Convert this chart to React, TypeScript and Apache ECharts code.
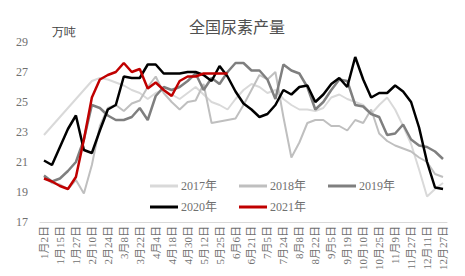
import React, { useEffect, useRef } from "react";
import * as echarts from "echarts";

const categories = [
  "1月2日", "1月8日", "1月15日", "1月21日", "1月27日", "2月3日", "2月10日", "2月17日", "2月24日", "3月2日",
  "3月8日", "3月15日", "3月22日", "3月28日", "4月4日", "4月11日", "4月18日", "4月24日", "4月30日", "5月6日",
  "5月12日", "5月19日", "5月25日", "5月31日", "6月6日", "6月13日", "6月21日", "6月28日", "7月5日", "7月12日",
  "7月24日", "7月31日", "8月8日", "8月15日", "8月22日", "8月29日", "9月5日", "9月12日", "9月19日", "9月26日",
  "10月10日", "10月17日", "10月25日", "11月1日", "11月9日", "11月18日", "11月27日", "12月4日", "12月11日", "12月18日",
  "12月27日",
];

const s2017 = [
  22.8, 23.4, 24.0, 24.6, 25.2, 25.8, 26.4, 26.6, 26.5, 26.3,
  26.1, 25.8, 25.6, 25.2, 25.6, 25.8, 25.5, 25.2, 25.6, 26.0,
  25.5, 25.0, 24.8, 24.5, 25.2, 25.8, 26.2, 26.0, 25.6, 25.8,
  25.2, 24.8, 24.5, 24.5, 24.4, 24.6, 25.3, 25.5, 25.2, 25.0,
  24.8, 24.2, 24.8, 25.3, 24.5, 23.4, 22.2, 20.5, 18.7, 19.2,
  19.6,
];
const s2018 = [
  20.0, 19.6, 19.5, 19.2, 19.8, 18.9, 20.8, 23.4, 24.6, 24.8,
  24.4, 24.9, 25.1, 26.0, 26.7, 25.6, 25.0, 24.5, 25.0, 25.1,
  26.2, 23.6, 23.7, 23.8, 23.9, 24.8, 25.8, 26.8, 26.5, 27.0,
  24.0, 21.3, 22.3, 23.6, 23.8, 23.8, 23.4, 23.4, 23.1, 23.8,
  23.6, 24.5, 22.9, 22.4, 22.1, 21.9, 21.7, 21.3, 21.0, 20.2,
  20.0,
];
const s2019 = [
  20.1, 19.7, 19.9, 20.4, 21.0, 22.5, 24.8, 24.6, 24.1, 23.8,
  23.8, 24.0, 24.6, 23.8, 25.4, 26.0, 25.8, 26.0, 26.4, 26.9,
  25.8, 26.6, 26.2, 27.0, 27.6, 27.6, 27.1, 27.1, 26.5, 25.2,
  27.5, 27.1, 26.9, 26.0, 24.5, 25.0, 25.8, 26.5, 26.4, 24.8,
  24.7, 24.2, 24.0, 22.8, 22.9, 23.5, 22.5, 22.1, 22.0, 21.7,
  21.2,
];
const s2020 = [
  21.1, 20.8, 22.0, 23.2, 24.1, 21.8, 21.6, 23.1, 24.5, 24.8,
  26.7, 26.6, 26.6, 27.5, 27.5, 26.9, 26.9, 26.9, 27.0, 27.0,
  26.8, 26.4, 27.4, 26.7, 25.7, 24.9, 24.5, 24.0, 24.2, 24.8,
  25.8, 25.5, 26.0, 26.1, 25.0, 25.5, 26.2, 26.6, 26.0, 28.0,
  26.5, 25.3, 25.6, 25.6, 26.1, 25.7, 25.0, 23.3, 21.0, 19.3,
  19.2,
];
const s2021 = [
  19.9, 19.7, 19.4, 19.2, 20.0, 22.5, 25.3, 26.5, 26.8, 27.0,
  27.6, 27.0, 27.2, 25.9, 26.3, 25.8, 25.4, 26.4, 26.7, 26.7,
  26.9, 26.9, 26.9, 26.9,
];

const seriesNames = ["2017年", "2018年", "2019年", "2020年", "2021年"];
const seriesData = [s2017, s2018, s2019, s2020, s2021];
const seriesColors = ["#d9d9d9", "#bfbfbf", "#7f7f7f", "#000000", "#c00000"];
const seriesWidths = [2, 2, 2.5, 2.5, 2.5];

const FONT = "'Liberation Serif', 'DejaVu Serif', 'Noto Sans CJK SC', serif";

export default function App() {
  const ref = useRef<HTMLDivElement>(null);
  useEffect(() => {
    if (!ref.current) return;
    const chart = echarts.init(ref.current, null, { renderer: "svg" });
    chart.setOption({
      animation: false,
      backgroundColor: "#ffffff",
      title: {
        text: "全国尿素产量",
        left: 232,
        top: 13,
        textAlign: "center",
        textStyle: { fontFamily: "'Noto Sans CJK SC', serif", fontSize: 16, fontWeight: "normal", color: "#505050" },
      },
      graphic: [
        {
          type: "text",
          left: 52,
          top: 26,
          style: { text: "万吨", fontSize: 12, fill: "#404040", font: "12px 'Noto Sans CJK SC', sans-serif" },
        },
      ],
      legend: [
        {
          data: seriesNames.slice(0, 3),
          left: 150,
          top: 180,
          itemWidth: 28,
          itemHeight: 3,
          itemGap: 22,
          icon: "rect",
          textStyle: { fontFamily: FONT, fontSize: 12, color: "#707070", padding: [0, 0, 0, -2] },
          padding: 0,
        },
        {
          data: seriesNames.slice(3),
          left: 150,
          top: 201,
          itemWidth: 28,
          itemHeight: 3,
          itemGap: 22,
          icon: "rect",
          textStyle: { fontFamily: FONT, fontSize: 12, color: "#707070", padding: [0, 0, 0, -2] },
          padding: 0,
        },
      ],
      grid: { left: 40, right: 18, top: 42, bottom: 54, containLabel: false },
      xAxis: {
        type: "category",
        data: categories,
        boundaryGap: true,
        axisLine: { lineStyle: { color: "#d9d9d9", width: 1 } },
        axisTick: { show: false },
        axisLabel: {
          interval: 1,
          rotate: 90,
          fontSize: 11,
          color: "#707070",
          fontFamily: FONT,
          margin: 4,
        },
      },
      yAxis: {
        type: "value",
        min: 17,
        max: 29,
        interval: 2,
        splitLine: { show: false },
        axisLine: { show: false },
        axisTick: { show: false },
        axisLabel: { fontSize: 12, color: "#707070", fontFamily: FONT, margin: 12 },
      },
      series: seriesNames.map((name, i) => ({
        name,
        type: "line",
        data: seriesData[i],
        symbol: "none",
        lineStyle: { color: seriesColors[i], width: seriesWidths[i] },
        itemStyle: { color: seriesColors[i] },
        z: i + 1,
      })),
    });
    return () => chart.dispose();
  }, []);
  return <div ref={ref} style={{ width: 465, height: 276, position: "absolute", left: 0, top: 0 }} />;
}
